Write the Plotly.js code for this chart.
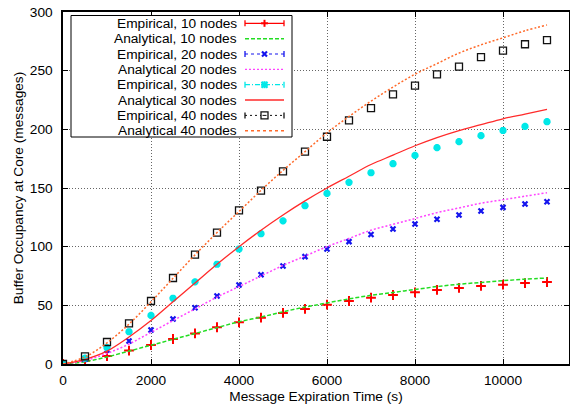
<!DOCTYPE html>
<html>
<head>
<meta charset="utf-8">
<script src="https://cdn.plot.ly/plotly-3.0.1.min.js"></script>
<style>html,body{margin:0;padding:0;background:#fff}#chart{width:570px;height:408px}</style>
</head>
<body>
<div id="chart"></div>
<script>
// Message expiration time (s)
const times = [0,500,1000,1500,2000,2500,3000,3500,4000,4500,5000,5500,6000,6500,7000,7500,8000,8500,9000,9500,10000,10500,11000];

// Empirical measurements (messages)
const emp10 = [0,2.8,6.8,11.4,16.2,21.3,26.1,31.3,35.5,39.5,43.5,46.9,50.6,53.7,56.5,58.8,61.1,63.1,64.8,66.5,67.6,69,69.9];
const emp20 = [0,4,12,19.6,29,38.4,48,58,67.3,76,83.5,91.5,98,104.3,110.3,115,119.3,123.3,127,130.4,133.5,136.4,138.3];
const emp30 = [0,5,14,27.5,41.4,56,70,85,98,111,122,134.9,145.4,154.8,163,170.7,177.8,184.4,189.5,194.6,199,202.5,206.5];
const emp40 = [0,6.5,18.75,34.7,53.7,73.3,93.2,112,131,147.7,164.2,181,193.7,207.7,218,229.8,237.2,246.9,253.4,261.6,267,272.5,276];

// Analytical predictions (messages)
const ana10 = [0,2,6,11,16,21,26,31,36,40,44.5,48.5,52,55.5,58.5,61,63.5,66,68,69.5,71,72.3,73.3];
const ana20 = [0,3,9,17,27,37,47,57,66,75,84,92,100,107,114,119,124,129,133,137,140,143,146];
const ana30 = [0,4,11,23,37,53,69,85,100,114,127,139,150,160,170,178,186,193,199,204,209,213,217];
const ana40 = [0,6,18,34,53,73,93,112,130,148,165,181,197,211,224,236,247,256,265,272,278,284,289];

// Legend labels and tick labels
const seriesNames = [
  "Empirical, 10 nodes","Analytical, 10 nodes",
  "Empirical, 20 nodes","Analytical 20 nodes",
  "Empirical, 30 nodes","Analytical 30 nodes",
  "Empirical, 40 nodes","Analytical 40 nodes"
];
const xTickVals = [0,2000,4000,6000,8000,10000];
const xTickText = ["0","2000","4000","6000","8000","10000"];
const yTickVals = [0,50,100,150,200,250,300];

const C = {r10:"#ff0000", g10:"#22dd22", b20:"#1414ee", m20:"#ff44ff", c30:"#00e8e8", r30:"#ff2a2a", k40:"#111111", o40:"#ff6a2a"};

const traces = [
  {x: times, y: emp10, name: seriesNames[0], mode: "markers", type: "scatter",
   marker: {symbol: "cross-thin-open", size: 7, line: {color: C.r10, width: 2}, color: C.r10}},
  {x: times, y: ana10, name: seriesNames[1], mode: "lines", type: "scatter", line: {shape: "spline", color: C.g10, width: 1.5, dash: "4px,2px"}},
  {x: times, y: emp20, name: seriesNames[2], mode: "markers", type: "scatter",
   marker: {symbol: "x-thin-open", size: 5, line: {color: C.b20, width: 2.2}, color: C.b20}},
  {x: times, y: ana20, name: seriesNames[3], mode: "lines", type: "scatter", line: {shape: "spline", color: C.m20, width: 1.5, dash: "2px,2px"}},
  {x: times, y: emp30, name: seriesNames[4], mode: "markers", type: "scatter",
   marker: {symbol: "asterisk-open", size: 6, line: {color: C.c30, width: 2.5}, color: C.c30}},
  {x: times, y: ana30, name: seriesNames[5], mode: "lines", type: "scatter", line: {shape: "spline", color: C.r30, width: 1.3}},
  {x: times, y: emp40, name: seriesNames[6], mode: "markers", type: "scatter",
   marker: {symbol: "square-open", size: 7, line: {color: C.k40, width: 1.3}, color: C.k40}},
  {x: times, y: ana40, name: seriesNames[7], mode: "lines", type: "scatter", line: {shape: "spline", color: C.o40, width: 1.5, dash: "2px,2px"}}
];

const font = {family: "Liberation Sans, Arial, sans-serif", size: 13.7, color: "#000"};

// ---- custom legend (gnuplot style: text right-aligned, sample on the right) ----
const M = {l: 63, r: 1, t: 12, b: 44};
const PW = 570 - M.l - M.r, PH = 408 - M.t - M.b;
const px = v => (v - M.l) / PW;
const py = v => 1 - (v - M.t) / PH;

const legendStyles = [
  {color: C.r10, dash: "solid", width: 1.3, marker: "plus", caps: true},
  {color: C.g10, dash: "4px,2px", width: 1.5},
  {color: C.b20, dash: "3px,3px", width: 1.2, marker: "x", caps: true},
  {color: C.m20, dash: "2px,2px", width: 1.3},
  {color: C.c30, dash: "5px,2px,1px,2px", width: 1.2, marker: "ast", caps: true},
  {color: C.r30, dash: "solid", width: 1.5},
  {color: C.k40, dash: "2px,3px", width: 1, marker: "sq", caps: true},
  {color: C.o40, dash: "3px,3px", width: 1.3}
];
const shapes = [{type: "rect", xref: "paper", yref: "paper", x0: px(71), x1: px(292), y0: py(137), y1: py(15.5),
                 line: {color: "#000", width: 1}, fillcolor: "#fff", layer: "above"}];
const annotations = [];
const rowY0 = 23.3, rowStep = 15.35, sx0 = 245, sx1 = 284, sxm = 264.5;
seriesNames.forEach((name, i) => {
  const y = rowY0 + i * rowStep;
  const st = legendStyles[i];
  annotations.push({xref: "paper", yref: "paper", x: px(237.5), y: py(y), xanchor: "right", yanchor: "middle",
                    text: name, showarrow: false, font: font, borderpad: 0});
  shapes.push({type: "line", xref: "paper", yref: "paper", x0: px(sx0), x1: px(sx1), y0: py(y), y1: py(y),
               line: {color: st.color, width: st.width, dash: st.dash}, layer: "above"});
  const seg = (ax, ay, bx, by, w) => shapes.push({type: "line", xref: "paper", yref: "paper",
               x0: px(ax), x1: px(bx), y0: py(ay), y1: py(by), line: {color: st.color, width: w || 1.3}, layer: "above"});
  if (st.caps) { seg(sx0, y - 3, sx0, y + 3); seg(sx1, y - 3, sx1, y + 3); }
  if (st.marker === "plus") { seg(sxm - 3.5, y, sxm + 3.5, y, 2); seg(sxm, y - 3.5, sxm, y + 3.5, 2); }
  if (st.marker === "x") { seg(sxm - 2.5, y - 2.5, sxm + 2.5, y + 2.5, 2.2); seg(sxm - 2.5, y + 2.5, sxm + 2.5, y - 2.5, 2.2); }
  if (st.marker === "ast") { seg(sxm - 3, y - 3, sxm + 3, y + 3, 2.2); seg(sxm - 3, y + 3, sxm + 3, y - 3, 2.2);
                             seg(sxm - 3.5, y, sxm + 3.5, y, 2.2); seg(sxm, y - 3.5, sxm, y + 3.5, 2.2); }
  if (st.marker === "sq") { shapes.push({type: "rect", xref: "paper", yref: "paper", x0: px(sxm - 3.5), x1: px(sxm + 3.5),
                             y0: py(y + 3.5), y1: py(y - 3.5), line: {color: st.color, width: 1.3}, fillcolor: "#fff", layer: "above"});
                            seg(sxm - 2, y, sxm + 2, y, 1); }
});

const axisCommon = {
  showline: true, linecolor: "#000", linewidth: 1.6, mirror: "ticks",
  ticks: "inside", ticklen: 5, tickcolor: "#000", tickwidth: 1,
  showgrid: true, gridcolor: "#666", griddash: "1px,2px", gridwidth: 1,
  zeroline: false, tickfont: font
};

const layout = {
  width: 570, height: 408,
  margin: M,
  paper_bgcolor: "#fff", plot_bgcolor: "#fff",
  font: font,
  showlegend: false,
  shapes: shapes,
  annotations: annotations,
  xaxis: Object.assign({}, axisCommon, {range: [0, 11500], tickmode: "array", tickvals: xTickVals, ticktext: xTickText,
          ticklabelstandoff: 3,
          title: {text: "Message Expiration Time (s)", font: font, standoff: 4}}),
  yaxis: Object.assign({}, axisCommon, {range: [0, 300], tickmode: "array", tickvals: yTickVals,
          ticklabelstandoff: 6,
          title: {text: "Buffer Occupancy at Core (messages)", font: font, standoff: 3}})
};

Plotly.newPlot("chart", traces, layout, {displayModeBar: false, staticPlot: true});
</script>
</body>
</html>
